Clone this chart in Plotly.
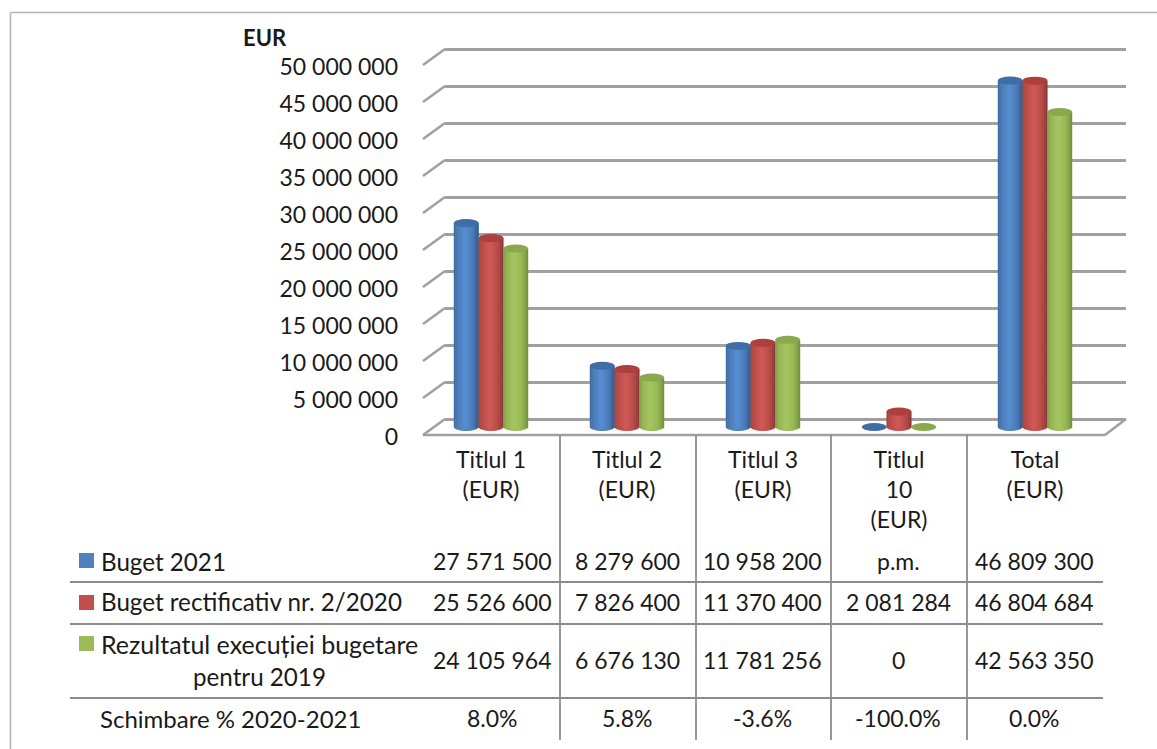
import math
import plotly.graph_objects as go

# ---- data ----
categories = ["Titlul 1<br>(EUR)", "Titlul 2<br>(EUR)", "Titlul 3<br>(EUR)", "Titlul<br>10<br>(EUR)", "Total<br>(EUR)"]
series_names = ["Buget 2021", "Buget rectificativ nr. 2/2020", "Rezultatul execuției bugetare<br>pentru 2019"]
buget_2021 = [27571500, 8279600, 10958200, 0, 46809300]
buget_rectificativ = [25526600, 7826400, 11370400, 2081284, 46804684]
rezultat_2019 = [24105964, 6676130, 11781256, 0, 42563350]
row_2021 = ["27 571 500", "8 279 600", "10 958 200", "p.m.", "46 809 300"]
row_rect = ["25 526 600", "7 826 400", "11 370 400", "2 081 284", "46 804 684"]
row_rez = ["24 105 964", "6 676 130", "11 781 256", "0", "42 563 350"]
change_label = "Schimbare % 2020-2021"
row_change = ["8.0%", "5.8%", "-3.6%", "-100.0%", "0.0%"]
tick_values = [0, 5e6, 10e6, 15e6, 20e6, 25e6, 30e6, 35e6, 40e6, 45e6, 50e6]
tick_labels = ["0", "5 000 000", "10 000 000", "15 000 000", "20 000 000", "25 000 000",
               "30 000 000", "35 000 000", "40 000 000", "45 000 000", "50 000 000"]
colors = ["#4f81bd", "#c0504d", "#9bbb59"]
edges = ["#2f5684", "#8a3432", "#6c8a3a"]
lights = ["#5590d6", "#d05c59", "#a6c860"]
caps = ["#3f6ea6", "#ad3f3c", "#8aa94c"]

W, H = 1157, 749
FONT = "Lato"
FS = 23
FS_LABEL = 24.2
TXT = "#1a1a1a"
GRID = "#a0a0a0"
LINE = "#8c8c8c"

def px(x): return x / W
def py(y): return 1 - y / H

PX_PER_EUR = 37 / 5e6
FRONT_L, FRONT_R = 423, 1103
BACK_L, BACK_R = 445, 1126
Y0_BACK, Y0_FRONT, Y0_BARS = 419, 435, 427
Y0_LABELS = 436.5
BAR_BOTTOM = 452  # pixel where the bar subplot ends (room for round base)
low_val = -(BAR_BOTTOM - Y0_BARS) / PX_PER_EUR
GRID_PAD = 4 / PX_PER_EUR  # keeps the first and last grid lines inside the axis

fig = go.Figure()
# invisible anchors: back wall (x,y) and front labels (x,y3)
fig.add_trace(go.Scatter(x=[0], y=[0], xaxis="x", yaxis="y", mode="markers",
                         marker=dict(opacity=0), showlegend=False, hoverinfo="skip"))
fig.add_trace(go.Scatter(x=[0], y=[0], xaxis="x", yaxis="y3", mode="markers",
                         marker=dict(opacity=0), showlegend=False, hoverinfo="skip"))

all_series = [buget_2021, buget_rectificativ, rezultat_2019]
cat_idx = list(range(5))
BW = 0.182
for s, vals in enumerate(all_series):
    fig.add_trace(go.Bar(x=cat_idx, y=vals, xaxis="x2", yaxis="y2",
                         name=series_names[s].replace("<br>", " "),
                         width=BW, offset=(s - 1.5) * BW,
                         marker=dict(color=colors[s], line=dict(width=0)),
                         showlegend=False))

shapes = []
def mix(a, b, t):
    ca = [int(a[i:i+2], 16) for i in (1, 3, 5)]
    cb = [int(b[i:i+2], 16) for i in (1, 3, 5)]
    return "#%02x%02x%02x" % tuple(round(p + (q - p) * t) for p, q in zip(ca, cb))

# cylinders: vertical strips and elliptical caps, all placed on the bar axes
CAP_PX = 4.0
cap_val = CAP_PX / PX_PER_EUR
N = 14
for s, vals in enumerate(all_series):
    for c, v in enumerate(vals):
        x_left = c + (s - 1.5) * BW
        if v > 0:
            shapes.append(dict(type="circle", xref="x2", yref="y2", layer="above",
                               x0=x_left, x1=x_left + BW, y0=-cap_val, y1=cap_val,
                               line=dict(width=0), fillcolor=colors[s]))
        for k in range(N):
            t0 = -1 + 2 * k / N
            t1 = -1 + 2 * (k + 1) / N
            tm = (t0 + t1) / 2
            if v > 0:
                d = abs(tm + 0.1)
                if d < 0.45:
                    col = mix(lights[s], colors[s], d / 0.45)
                else:
                    col = mix(colors[s], edges[s], ((d - 0.45) / 0.65) ** 1.4)
                shapes.append(dict(type="rect", xref="x2", yref="y2", layer="above",
                                   x0=x_left + BW * (k / N), x1=x_left + BW * ((k + 1) / N),
                                   y0=-cap_val * 0.6 * math.sqrt(max(0, 1 - tm * tm)), y1=v,
                                   line=dict(width=0), fillcolor=col))
        shapes.append(dict(type="circle", xref="x2", yref="y2", layer="above",
                           x0=x_left, x1=x_left + BW, y0=v - cap_val, y1=v + cap_val,
                           line=dict(width=0), fillcolor=caps[s]))

# side and floor lines of the 3D box
def seg(x0, y0, x1, y1, color=GRID, width=2.6):
    shapes.append(dict(type="line", xref="paper", yref="paper", layer="below",
                       x0=px(x0), y0=py(y0), x1=px(x1), y1=py(y1),
                       line=dict(color=color, width=width)))

for v in tick_values:
    yb = Y0_BACK - v * PX_PER_EUR
    yf = Y0_FRONT - v * PX_PER_EUR
    seg(FRONT_L, yf, BACK_L, yb)
seg(FRONT_L, Y0_FRONT, FRONT_R + 2, Y0_FRONT)
seg(FRONT_R + 2, Y0_FRONT, BACK_R, Y0_BACK)

# table rules
for y in (582, 624, 698):
    seg(70, y, 1103, y, LINE, 1.8)
for x in (560, 696, 831, 967):
    seg(x, Y0_FRONT, x, 740, LINE, 1.8)
# outer frame
seg(10.5, 12.5, W, 12.5, "#b5b5b5", 1.6)
seg(10.5, 12.5, 10.5, H, "#b5b5b5", 1.6)

# legend keys
for s, y in enumerate((553, 595, 636)):
    shapes.append(dict(type="rect", xref="paper", yref="paper",
                       x0=px(79), x1=px(94), y0=py(y), y1=py(y + 15),
                       line=dict(width=0), fillcolor=colors[s]))

annotations = []
def txt(text, x, y, anchor="center", bold=False, size=FS):
    annotations.append(dict(text=f"<b>{text}</b>" if bold else text,
                            xref="paper", yref="paper", x=px(x), y=py(y),
                            xanchor=anchor, yanchor="middle", showarrow=False,
                            align="center", font=dict(family=FONT, size=size, color=TXT)))

txt("EUR", 241, 38, "left", bold=True, size=22)
txt(series_names[0], 99, 561, "left", size=FS_LABEL)
txt(series_names[1], 99, 601, "left", size=FS_LABEL)
first, second = series_names[2].split("<br>")
txt(first, 99, 644, "left", size=25)
txt(second, 259, 676, size=FS_LABEL)
txt(change_label, 98, 718, "left", size=24)
centers = [492, 627, 762, 898, 1034]
for row, y in ((row_2021, 561), (row_rect, 602), (row_rez, 660), (row_change, 718)):
    for c, t in zip(centers, row):
        txt(t, c, y)

def dom(top, bottom):
    return [1 - bottom / H, 1 - top / H]

axis_off = dict(showgrid=False, zeroline=False, showline=False, showticklabels=False, ticks="")

layout = dict(
    width=W, height=H, margin=dict(l=0, r=0, t=0, b=0, pad=0, autoexpand=False),
    paper_bgcolor="#ffffff", plot_bgcolor="rgba(0,0,0,0)",
    barmode="overlay", showlegend=False, shapes=shapes, annotations=annotations,
    font=dict(family=FONT, size=FS, color=TXT),
    # back wall with its grid
    xaxis=dict(domain=[px(BACK_L), px(BACK_R)], range=[-1, 1], **axis_off),
    yaxis=dict(domain=dom(Y0_BACK - 50e6 * PX_PER_EUR - 4, Y0_BACK + 4),
               range=[-GRID_PAD, 50e6 + GRID_PAD], anchor="x",
               tickvals=tick_values, showgrid=True, gridcolor=GRID, gridwidth=2.6,
               zeroline=False, showline=False, showticklabels=False, ticks=""),
    # bars in the middle of the box, with the category labels
    xaxis2=dict(domain=[px(FRONT_L), px(FRONT_R)], range=[-0.5, 4.5], anchor="free",
                position=py(Y0_FRONT + 9), tickmode="array", tickvals=cat_idx, ticktext=categories,
                showgrid=False, zeroline=False, showline=False, ticks="",
                tickfont=dict(family=FONT, size=FS, color=TXT)),
    yaxis2=dict(domain=dom(Y0_BARS - 50e6 * PX_PER_EUR, BAR_BOTTOM), range=[low_val, 50e6],
                anchor="x2", **axis_off),
    # front value axis carrying the labels
    yaxis3=dict(domain=dom(Y0_LABELS - 50e6 * PX_PER_EUR, Y0_LABELS), range=[0, 50e6],
                anchor="free", position=px(398), side="left",
                tickmode="array", tickvals=tick_values, ticktext=tick_labels,
                showgrid=False, zeroline=False, showline=False, ticks="",
                tickfont=dict(family=FONT, size=FS, color=TXT)),
)
fig.update_layout(**layout)

fig.write_html("out.html", config={"displayModeBar": False},
               post_script="document.body.style.margin='0';document.body.style.overflow='hidden';")
